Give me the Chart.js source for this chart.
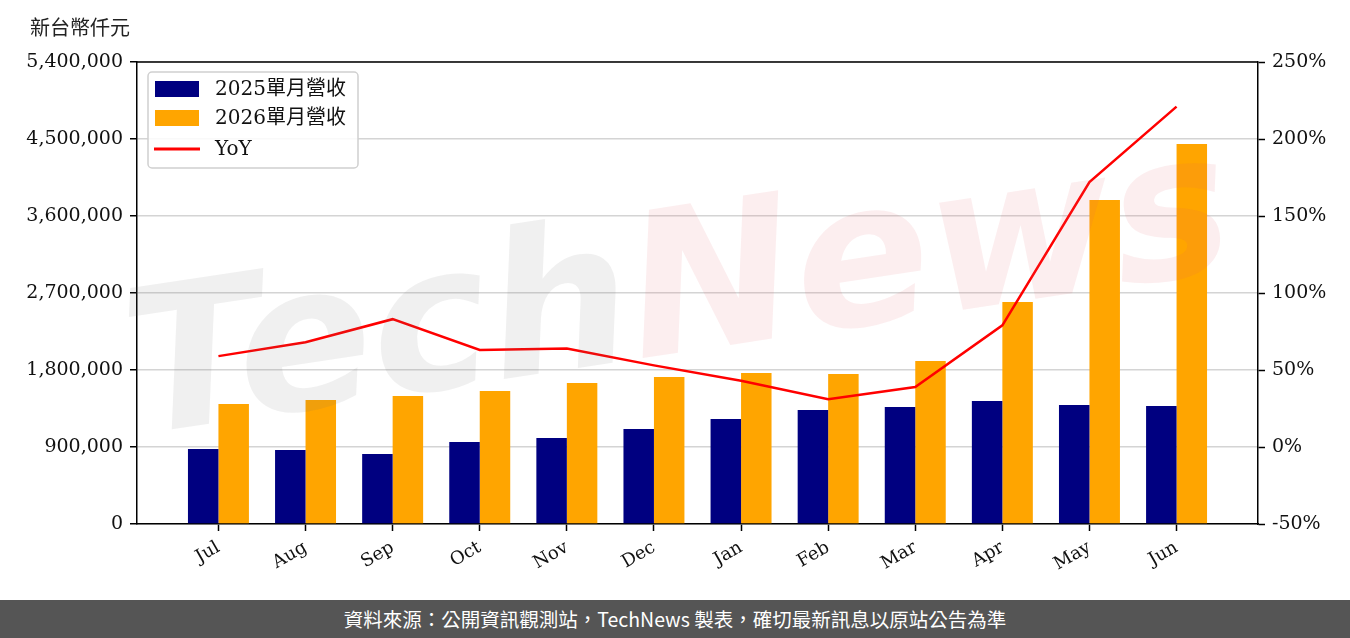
<!DOCTYPE html>
<html>
<head>
<meta charset="utf-8">
<script src="https://cdn.jsdelivr.net/npm/chart.js@4"></script>
<style>
  body { margin: 0; background: #fff; }
  #wrap { width: 1350px; height: 600px; position: relative; }
  #footer {
    width: 1350px; height: 38px; background: #555555; color: #fff;
    font: 19.5px "Noto Sans CJK TC", "Noto Sans", sans-serif;
    text-align: center; line-height: 38px;
  }
</style>
</head>
<body>
<div id="wrap"><canvas id="revChart" width="1350" height="600"></canvas></div>
<div id="footer">資料來源：公開資訊觀測站，TechNews 製表，確切最新訊息以原站公告為準</div>
<script>
const months = ['Jul', 'Aug', 'Sep', 'Oct', 'Nov', 'Dec', 'Jan', 'Feb', 'Mar', 'Apr', 'May', 'Jun'];
const rev2025 = [877000, 865000, 818000, 958000, 1005000, 1110000, 1227000, 1332000, 1368000, 1438000, 1391000, 1379000];
const rev2026 = [1403000, 1449000, 1496000, 1555000, 1648000, 1718000, 1765000, 1753000, 1905000, 2595000, 3787000, 4442000];
const yoy = [59, 68, 83, 63, 64, 53, 43, 31, 39, 79, 172, 221];
const leftTicks = [0, 900000, 1800000, 2700000, 3600000, 4500000, 5400000];
const rightTicks = [-50, 0, 50, 100, 150, 200, 250];

const serif = '"DejaVu Serif", "Noto Sans CJK TC", serif';
const toXY = arr => arr.map((v, i) => ({ x: i, y: v }));

// watermark, axis unit, frame and legend
const decor = {
  id: 'decor',
  afterDraw(chart) {
    const c = chart.ctx, a = chart.chartArea;
    c.save();
    // watermark
    c.translate(680, 300);
    c.rotate(-0.15);
    c.font = 'italic bold 200px "DejaVu Sans", sans-serif';
    c.textBaseline = 'middle';
    const w1 = c.measureText('Tech').width, w2 = c.measureText('News').width;
    const x0 = -(w1 + w2) / 2;
    c.fillStyle = 'rgba(110,110,110,0.10)';
    c.fillText('Tech', x0, 0);
    c.fillStyle = 'rgba(225,90,100,0.10)';
    c.fillText('News', x0 + w1, 0);
    c.restore();

    c.save();
    // frame top
    c.strokeStyle = '#000';
    c.lineWidth = 1.5;
    c.beginPath();
    c.moveTo(a.left, a.top);
    c.lineTo(a.right, a.top);
    c.stroke();

    // unit label
    c.fillStyle = '#222';
    c.font = '20px "Noto Sans CJK TC", sans-serif';
    c.textBaseline = 'middle';
    c.fillText('新台幣仟元', 30, 27);

    // legend
    const lx = 148, ly = 72, lw = 210, lh = 96;
    c.fillStyle = 'rgba(255,255,255,0.85)';
    c.strokeStyle = '#d0d0d0';
    c.lineWidth = 1.5;
    c.beginPath();
    c.roundRect(lx, ly, lw, lh, 4);
    c.fill();
    c.stroke();
    const rows = [89, 118, 149];
    chart.data.datasets.forEach((ds, i) => {
      const y = rows[i];
      if (ds.type === 'line') {
        c.strokeStyle = ds.borderColor;
        c.lineWidth = 3;
        c.beginPath();
        c.moveTo(154, y);
        c.lineTo(200, y);
        c.stroke();
      } else {
        c.fillStyle = ds.backgroundColor;
        c.fillRect(155, y - 8, 44, 16);
      }
      c.fillStyle = '#111';
      c.font = '20px ' + serif;
      c.textBaseline = 'middle';
      c.fillText(ds.label, 215, y + 1);
    });
    c.restore();
  }
};

new Chart(document.getElementById('revChart'), {
  type: 'bar',
  data: {
    datasets: [
      { label: '2025單月營收', data: toXY(rev2025), backgroundColor: '#000080', yAxisID: 'y', order: 1 },
      { label: '2026單月營收', data: toXY(rev2026), backgroundColor: '#FFA500', yAxisID: 'y', order: 1 },
      { type: 'line', label: 'YoY', data: toXY(yoy), borderColor: '#FF0000', borderWidth: 2.5,
        pointRadius: 0, tension: 0, yAxisID: 'y2', order: 0 }
    ]
  },
  options: {
    responsive: false,
    animation: false,
    layout: { padding: { top: 62, left: 0, right: 0, bottom: 0 } },
    categoryPercentage: 0.7,
    barPercentage: 1.0,
    plugins: { legend: { display: false }, tooltip: { enabled: false } },
    scales: {
      x: {
        type: 'linear',
        offset: false,
        min: -0.935,
        max: 11.935,
        afterBuildTicks: s => { s.ticks = months.map((m, i) => ({ value: i })); },
        afterFit: s => { s.height = 76; },
        grid: { offset: false, drawOnChartArea: false, tickColor: '#000', tickLength: 7, tickWidth: 1.5 },
        border: { color: '#000', width: 1.5 },
        ticks: {
          callback: v => months[v],
          minRotation: 30, maxRotation: 30,
          color: '#111', font: { family: serif, size: 18 }, padding: 6
        }
      },
      y: {
        position: 'left',
        min: 0, max: 5400000,
        afterBuildTicks: s => { s.ticks = leftTicks.map(v => ({ value: v })); },
        afterFit: s => { s.width = 137; },
        grid: { color: '#d4d4d4', lineWidth: 1.5, tickColor: '#000', tickLength: 7, tickWidth: 1.5 },
        border: { color: '#000', width: 1.5 },
        ticks: {
          callback: v => v.toLocaleString('en-US'),
          color: '#111', font: { family: serif, size: 19 }, padding: 7
        }
      },
      y2: {
        position: 'right',
        min: -50, max: 250,
        afterBuildTicks: s => { s.ticks = rightTicks.map(v => ({ value: v })); },
        afterFit: s => { s.width = 92; },
        grid: { drawOnChartArea: false, tickColor: '#000', tickLength: 7, tickWidth: 1.5 },
        border: { color: '#000', width: 1.5 },
        ticks: {
          callback: v => v + '%',
          color: '#111', font: { family: serif, size: 19 }, padding: 7
        }
      }
    }
  },
  plugins: [decor]
});
</script>
</body>
</html>
